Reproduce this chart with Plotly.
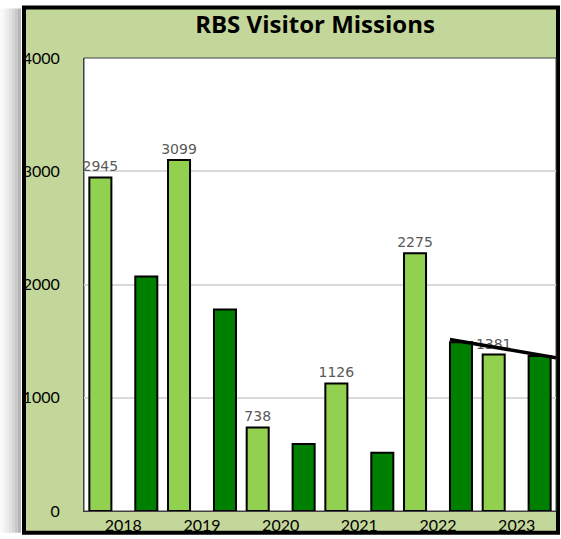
import plotly.graph_objects as go

years = ["2018", "2019", "2020", "2021", "2022", "2023"]
light_values = [2945, 3099, 738, 1126, 2275, 1381]
dark_values = [2070, 1780, 592, 515, 1490, 1368]
trend_years = ["2022", "2023"]
trend_values = [1515, 1352]
y_ticks = [0, 1000, 2000, 3000, 4000]

W, H = 561, 539
L, R, T, B = 84, 5, 58, 24
PW, PH = W - L - R, H - T - B

GREEN_BG = "#c4d79b"
LIGHT = "#92d050"
DARK = "#008000"

BAR_W = 0.28
LIGHT_OFF = -0.432
DARK_OFF = 0.152


def px_x(px):
    return (px - L) / PW


def px_y(py):
    return (H - B - py) / PH


fig = go.Figure()

fig.add_trace(
    go.Bar(
        x=years,
        y=light_values,
        width=BAR_W,
        offset=LIGHT_OFF,
        marker=dict(color=LIGHT, line=dict(color="black", width=2)),
        text=[str(v) for v in light_values],
        textposition="outside",
        constraintext="none",
        textfont=dict(family="DejaVu Sans", size=14, color="#595959"),
        cliponaxis=False,
        name="light",
    )
)
fig.add_trace(
    go.Bar(
        x=years,
        y=dark_values,
        width=BAR_W,
        offset=DARK_OFF,
        marker=dict(color=DARK, line=dict(color="black", width=2)),
        name="dark",
    )
)

shapes = []
# soft shadow on the left of the frame
shadow = ["#fafafa", "#f3f3f3", "#ebebeb", "#e2e2e2", "#d6d6d6", "#c8c8c8", "#b5b5b5"]
for i, c in enumerate(shadow):
    shapes.append(dict(type="rect", xref="paper", yref="paper", layer="below",
                       x0=px_x(i * 3), x1=px_x(i * 3 + 3), y0=px_y(537), y1=px_y(8),
                       fillcolor=c, line=dict(width=0)))
# green frame
shapes.append(dict(type="rect", xref="paper", yref="paper", layer="below",
                   x0=px_x(24), x1=px_x(558), y0=px_y(537), y1=px_y(7),
                   fillcolor=GREEN_BG, line=dict(color="black", width=4)))
# plot area
shapes.append(dict(type="rect", xref="paper", yref="paper", layer="below",
                   x0=0, x1=1, y0=0, y1=1,
                   fillcolor="white", line=dict(color="#404040", width=1)))

# trend line over the last bars
x_start = years.index(trend_years[0]) + DARK_OFF
x_end = years.index(trend_years[1]) + 0.5
shapes.append(dict(type="line", xref="x", yref="y", layer="above",
                   x0=x_start, x1=x_end, y0=trend_values[0], y1=trend_values[1],
                   line=dict(color="black", width=3.5)))

fig.update_layout(
    width=W,
    height=H,
    margin=dict(l=L, r=R, t=T, b=B, pad=0),
    paper_bgcolor="white",
    plot_bgcolor="rgba(0,0,0,0)",
    showlegend=False,
    barmode="overlay",
    shapes=shapes,
    title=dict(
        text="<b>RBS Visitor Missions</b>",
        x=(315 - L) / PW,
        xref="paper",
        xanchor="center",
        y=1 - 25 / H,
        yref="container",
        yanchor="middle",
        font=dict(family="Open Sans", size=24, color="black"),
    ),
    font=dict(family="Lato", size=16, color="black"),
)

fig.update_xaxes(
    type="category",
    range=[-0.5, 5.5],
    showgrid=False,
    showline=True,
    linecolor="#404040",
    linewidth=1,
    ticks="",
    tickfont=dict(family="Lato", size=16, color="black"),
    fixedrange=True,
)
fig.update_yaxes(
    range=[0, 4000],
    tickvals=y_ticks,
    showgrid=True,
    gridcolor="#d9d9d9",
    gridwidth=1.5,
    zeroline=False,
    showline=True,
    linecolor="#404040",
    linewidth=1,
    ticks="",
    ticklabelstandoff=20,
    tickfont=dict(family="Lato", size=16, color="black"),
    fixedrange=True,
)

# the page's default body margin would push the chart off the window
fig.write_html(
    "out.html",
    config={"displayModeBar": False},
    post_script="document.body.style.margin='0';",
)
